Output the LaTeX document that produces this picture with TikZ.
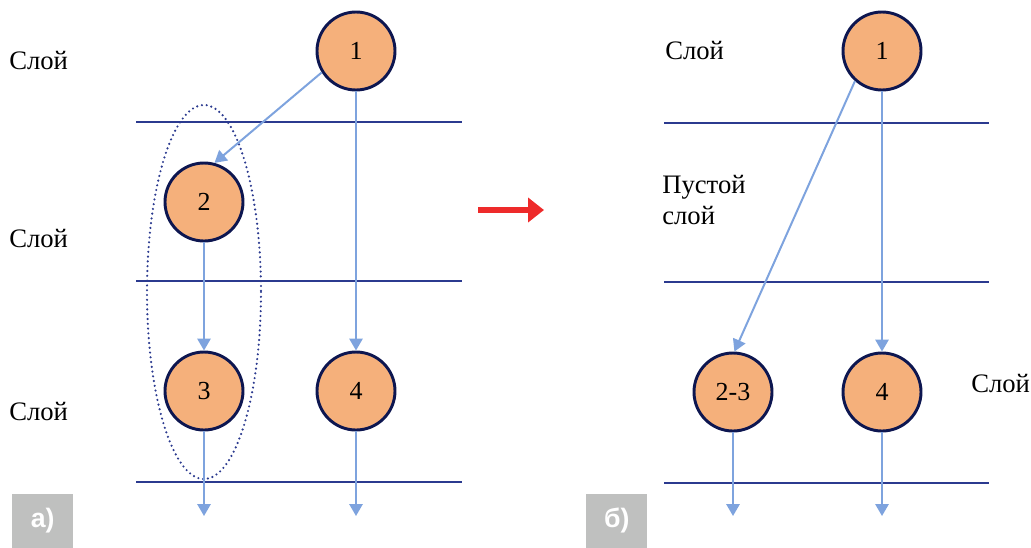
\documentclass[tikz,border=0pt]{standalone}
\usepackage{fontspec}
\setmainfont{Liberation Serif}
\setsansfont{Liberation Sans}
\usetikzlibrary{arrows.meta}
\definecolor{nodefill}{HTML}{F5B07B}
\definecolor{nodeline}{HTML}{0D1650}
\definecolor{layerline}{HTML}{2B3A8F}
\definecolor{flow}{HTML}{7EA3DE}
\definecolor{tagbg}{HTML}{BFC0BF}
\definecolor{redarrow}{HTML}{EE2A2A}
\tikzset{
  x=0.75pt, y=-0.75pt,
  vertex/.style={circle, draw=nodeline, fill=nodefill, line width=2.2pt,
    minimum size=58.5pt, inner sep=0pt, font=\fontsize{19.5}{19.5}\selectfont},
  layer/.style={draw=layerline, line width=1.9pt},
  edge/.style={draw=flow, line width=1.5pt, -{Triangle[length=9pt,width=10pt]}},
  lbl/.style={font=\fontsize{20}{23}\selectfont, inner sep=0pt, align=left},
  tag/.style={fill=tagbg, text=white, font=\sffamily\bfseries\fontsize{20}{20}\selectfont,
    minimum width=45.75pt, minimum height=40pt, inner sep=0pt},
  groupring/.style={draw=layerline, line width=1.8pt, line cap=round,
    dash pattern=on 0pt off 3.6pt}
}
\begin{document}
\begin{tikzpicture}
\useasboundingbox (0,0) rectangle (1031,547);

% layer boundaries, left panel
\draw[layer] (136,122) -- (462,122);
\draw[layer] (136,281) -- (462,281);
\draw[layer] (136,482) -- (462,482);
% layer boundaries, right panel
\draw[layer] (664,123) -- (989,123);
\draw[layer] (664,282) -- (989,282);
\draw[layer] (664,483) -- (989,483);

% group of merged vertices
\draw[groupring] (204,292) ellipse [x radius=57, y radius=187];

% left panel vertices
\node[vertex] (a1) at (356,51) {1};
\node[vertex] (a2) at (204,202) {2};
\node[vertex] (a3) at (204,391) {3};
\node[vertex] (a4) at (356,391) {4};
\coordinate (a3out) at (204,516);
\coordinate (a4out) at (356,516);

% right panel vertices
\node[vertex] (b1) at (882,51) {1};
\node[vertex] (b23) at (733,392) {2-3};
\node[vertex] (b4) at (882,392) {4};
\coordinate (b23out) at (733,516);
\coordinate (b4out) at (882,516);

% left panel edges
\draw[edge] (a1.212) -- (a2.75);
\draw[edge] (a1) -- (a4);
\draw[edge] (a2) -- (a3);
\draw[edge] (a3) -- (a3out);
\draw[edge] (a4) -- (a4out);

% right panel edges
\draw[edge] (b1.228) -- (b23.88);
\draw[edge] (b1) -- (b4);
\draw[edge] (b23) -- (b23out);
\draw[edge] (b4) -- (b4out);

% transformation arrow
\coordinate (tfrom) at (478,210);
\coordinate (tto) at (544,210);
\draw[redarrow, line width=4pt, -{Triangle[length=12pt,width=18pt]}] (tfrom) -- (tto);

% layer labels
\node[lbl, anchor=west] (la1) at (9,60) {Слой};
\node[lbl, anchor=west] (la2) at (9,238) {Слой};
\node[lbl, anchor=west] (la3) at (9,411) {Слой};
\node[lbl, anchor=west] (lb1) at (665,50) {Слой};
\node[lbl, anchor=north west] (lb2) at (662,175) {Пустой\\слой};
\node[lbl, anchor=west] (lb3) at (971,383) {Слой};

% panel tags
\node[tag, anchor=north west] (ta) at (12,494) {\raisebox{-4pt}{а)}};
\node[tag, anchor=north west] (tb) at (586,494) {\raisebox{-4pt}{б)}};
\end{tikzpicture}
\end{document}
